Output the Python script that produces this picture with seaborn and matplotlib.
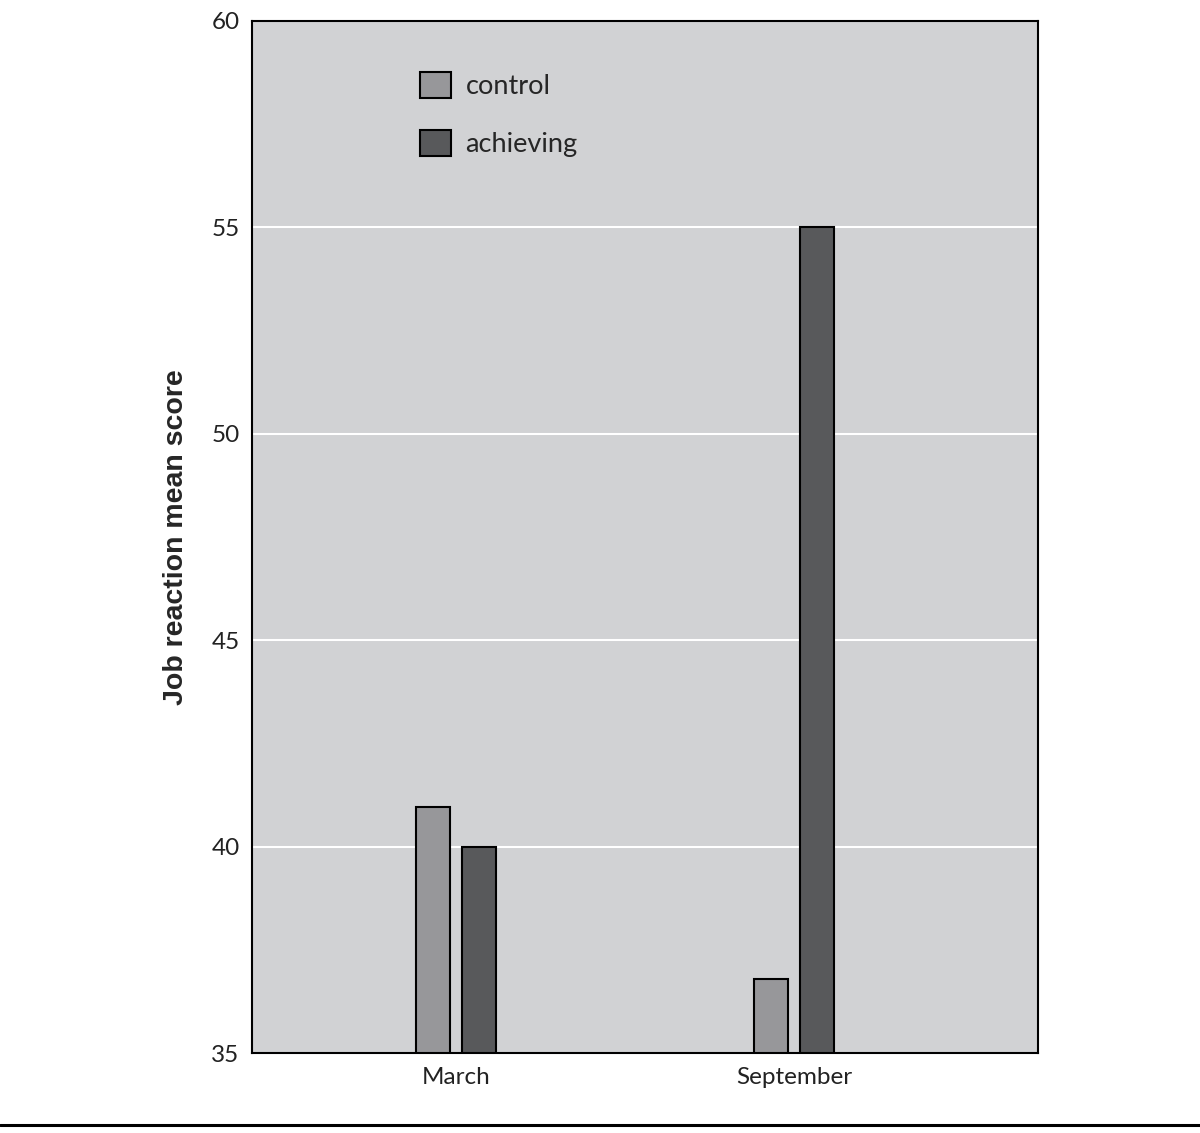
import pandas as pd
import matplotlib.pyplot as plt
import seaborn as sns

# data
months = ["March", "September"]
control = [40.95, 36.8]
achieving = [40.0, 55.0]
groups = ["control", "achieving"]

df = pd.DataFrame({
    "month": months * 2,
    "group": ["control"] * 2 + ["achieving"] * 2,
    "score": control + achieving,
})

sns.set_theme(style="white")
plt.rcParams['font.family'] = ['Lato', 'DejaVu Sans']

fig = plt.figure(figsize=(12, 11.33), dpi=100)
ax = fig.add_axes([0.21, 0.0706, 0.655, 0.9109])
ax.set_facecolor("#d1d2d4")

sns.barplot(
    data=df, x="month", y="score", hue="group", hue_order=groups,
    palette=["#96979a", "#58595b"], width=0.272, gap=0.265,
    edgecolor="black", linewidth=1.5, ax=ax,
)

ax.set_ylim(35, 60)
ax.set_xlim(-0.604, 1.722)
ax.set_yticks([35, 40, 45, 50, 55, 60])
ax.yaxis.grid(True, color="white", linewidth=1.5)
ax.set_axisbelow(True)
for s in ax.spines.values():
    s.set_color("black")
    s.set_linewidth(1.5)
ax.tick_params(axis="both", length=0, labelsize=17.5, colors="#222222")
ax.tick_params(axis="y", pad=9)
ax.tick_params(axis="x", pad=10)
ax.set_xlabel("")
ax.set_ylabel("Job reaction mean score", fontsize=20.5, fontweight="bold",
              family=["Liberation Sans", "DejaVu Sans"], labelpad=16)

sns.move_legend(
    ax, "upper left", bbox_to_anchor=(0.214, 0.951), frameon=False, title=None,
    fontsize=19.5, handlelength=1.12, handleheight=1.12, handletextpad=0.55,
    labelspacing=1.13, borderpad=0, borderaxespad=0,
)
for p in ax.get_legend().get_patches():
    p.set_edgecolor("black")
    p.set_linewidth(1.5)

# rule under the chart
fig.add_artist(plt.Line2D([0.0, 1.0], [0.007, 0.007], color="black", linewidth=2.2,
                          transform=fig.transFigure))

fig.savefig("out.png", dpi=100)
